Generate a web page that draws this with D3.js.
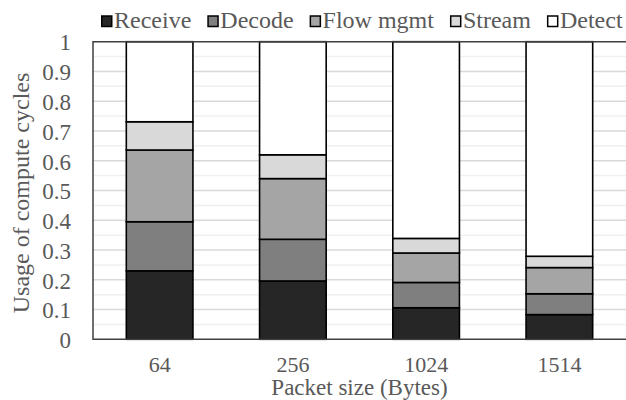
<!DOCTYPE html>
<html>
<head>
<meta charset="utf-8">
<script src="https://cdn.jsdelivr.net/npm/d3@7"></script>
<style>
  html, body { margin: 0; padding: 0; background: #fff; }
  svg { display: block; }
  svg text { font-family: "Liberation Serif", Tinos, "Times New Roman", Times, "Nimbus Roman", "DejaVu Serif", serif; fill: #595959; }
</style>
</head>
<body>
<svg id="chart" width="626" height="400"></svg>
<script>
// ---- data ----
const categories = ["64", "256", "1024", "1514"];
const seriesNames = ["Receive", "Decode", "Flow mgmt", "Stream", "Detect"];
const receive  = [0.230, 0.196, 0.106, 0.083];
const decode   = [0.165, 0.140, 0.085, 0.070];
const flowMgmt = [0.241, 0.204, 0.099, 0.088];
const stream   = [0.095, 0.080, 0.049, 0.038];
const detect   = [0.269, 0.380, 0.661, 0.721];
const yTicks = [0, 0.1, 0.2, 0.3, 0.4, 0.5, 0.6, 0.7, 0.8, 0.9, 1];
const yTickLabels = ["0", "0.1", "0.2", "0.3", "0.4", "0.5", "0.6", "0.7", "0.8", "0.9", "1"];
const colors = ["#262626", "#7f7f7f", "#a5a5a5", "#d9d9d9", "#ffffff"];
const xTitle = "Packet size (Bytes)";
const yTitle = "Usage of compute cycles";

const seriesValues = [receive, decode, flowMgmt, stream, detect];
const table = categories.map((c, i) => {
  const row = { cat: c };
  seriesNames.forEach((s, j) => row[s] = seriesValues[j][i]);
  return row;
});

// ---- layout ----
const svg = d3.select("#chart");
const plot = { left: 93, right: 626, top: 41.7, bottom: 339.3 };

const x = d3.scaleBand().domain(categories).range([plot.left, plot.right]).paddingInner(0.5).paddingOuter(0.25);
const y = d3.scaleLinear().domain([0, 1]).range([plot.bottom, plot.top]);

// minor gridlines
const minor = d3.range(0.05, 1, 0.1);
svg.append("g").selectAll("line").data(minor).join("line")
  .attr("x1", plot.left).attr("x2", plot.right)
  .attr("y1", d => y(d)).attr("y2", d => y(d))
  .attr("stroke", "#f0f0f0").attr("stroke-width", 1.5);
// major gridlines
svg.append("g").selectAll("line").data(yTicks.slice(1, -1)).join("line")
  .attr("x1", plot.left).attr("x2", plot.right)
  .attr("y1", d => y(d)).attr("y2", d => y(d))
  .attr("stroke", "#d9d9d9").attr("stroke-width", 1.5);

// stacked bars
const stack = d3.stack().keys(seriesNames);
const stacked = stack(table);
const gBars = svg.append("g");
stacked.forEach((layer, j) => {
  gBars.append("g").selectAll("rect").data(layer).join("rect")
    .attr("x", d => x(d.data.cat))
    .attr("width", x.bandwidth())
    .attr("y", d => y(d[1]))
    .attr("height", d => y(d[0]) - y(d[1]))
    .attr("fill", colors[j])
    .attr("stroke", "#000")
    .attr("stroke-width", 1.6);
});

// plot frame (left, top, bottom)
svg.append("path")
  .attr("d", `M${plot.right},${plot.top}H${plot.left}V${plot.bottom}H${plot.right}`)
  .attr("fill", "none").attr("stroke", "#404040").attr("stroke-width", 1.5);

// y tick labels
const yAxis = d3.axisLeft(y).tickValues(yTicks).tickFormat((d, i) => yTickLabels[i]).tickSize(0).tickPadding(22);
const gy = svg.append("g").attr("transform", `translate(${plot.left},0)`).call(yAxis);
gy.attr("font-family", null);
gy.select(".domain").remove();
gy.selectAll("text").attr("font-size", 23).attr("dy", "0.36em");

// x tick labels (baseline ~372.5)
const xAxis = d3.axisBottom(x).tickSize(0).tickPadding(18);
const gx = svg.append("g").attr("transform", `translate(0,${plot.bottom})`).call(xAxis);
gx.attr("font-family", null);
gx.select(".domain").remove();
gx.selectAll("text").attr("font-size", 22).attr("dy", null).attr("y", 33.2);

// axis titles
svg.append("text").attr("x", (plot.left + plot.right) / 2).attr("y", 395)
  .attr("text-anchor", "middle").attr("font-size", 23).text(xTitle);
svg.append("text").attr("transform", "translate(29,193) rotate(-90)")
  .attr("text-anchor", "middle").attr("font-size", 24).text(yTitle);

// legend
const legend = svg.append("g");
let lx = 101;
seriesNames.forEach((s, j) => {
  legend.append("rect").attr("x", lx + 0.75).attr("y", 16).attr("width", 10).attr("height", 10.5)
    .attr("fill", colors[j]).attr("stroke", "#000").attr("stroke-width", 1.5);
  const t = legend.append("text").attr("x", lx + 13).attr("y", 27.5).attr("font-size", 24).text(s);
  lx += 13 + t.node().getComputedTextLength() + 16;
});
</script>
</body>
</html>
